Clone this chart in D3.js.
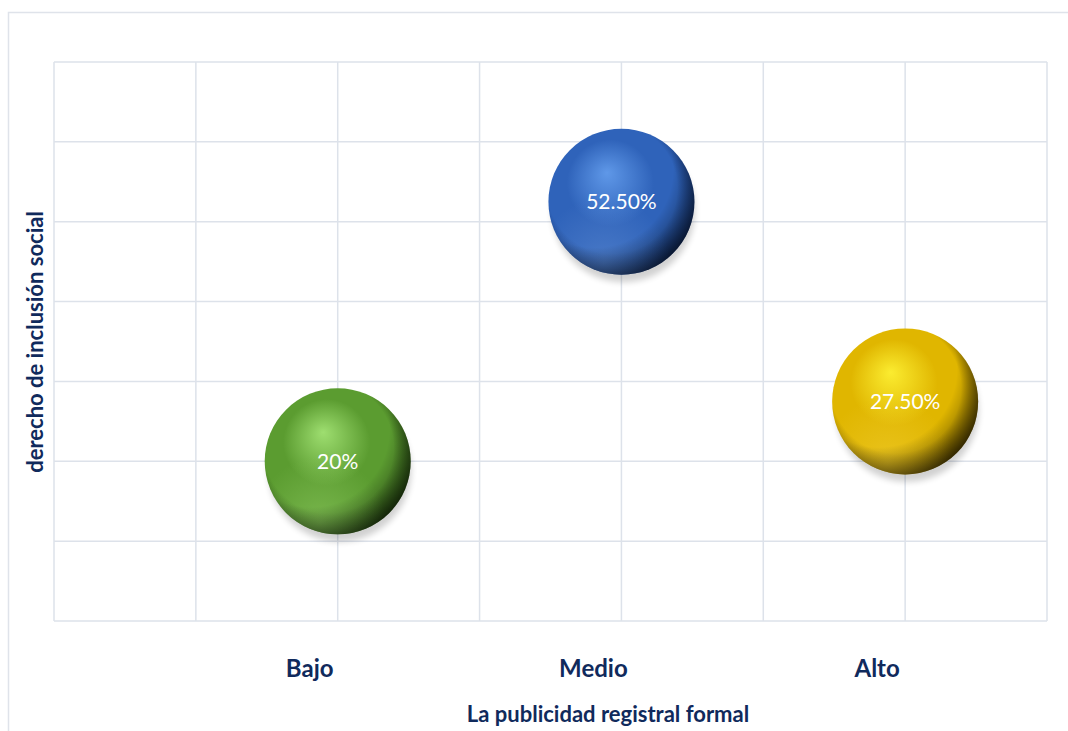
<!DOCTYPE html>
<html><head><meta charset="utf-8">
<script src="https://cdn.jsdelivr.net/npm/d3@7"></script>
<style>body{margin:0;background:#fff}svg{display:block}</style>
</head><body>
<script>
const categories = ["Bajo","Medio","Alto"];
const xValues = [1,2,3];
const yValues = [0.20,0.525,0.275];
const labels = ["20%","52.50%","27.50%"];
const sizes = [1,1,1];
const xTicks = [0,0.5,1,1.5,2,2.5,3,3.5];
const yTicks = [0,0.1,0.2,0.3,0.4,0.5,0.6,0.7];
const palettes = [
  {hi:"#9ede70",mid:"#5b9c30",dark:"#1a360a",refl:"#8cc860"},
  {hi:"#5f98e8",mid:"#2f63ba",dark:"#0a1f4c",refl:"#5a88d0"},
  {hi:"#fbec30",mid:"#e0b600",dark:"#453400",refl:"#f0cc30"}
];

const W=1068,H=731;
const m={l:54,t:62,r:1047,b:621};
const svg=d3.select("body").append("svg").attr("width",W).attr("height",H);
const defs=svg.append("defs");

svg.append("rect").attr("x",8.5).attr("y",12.5).attr("width",W+10).attr("height",H+10)
  .attr("fill","#fff").attr("stroke","#dfe3ea").attr("stroke-width",1.5);

const x=d3.scaleLinear().domain([0,3.5]).range([m.l,m.r]);
const y=d3.scaleLinear().domain([0,0.7]).range([m.b,m.t]);
const r=d3.scaleSqrt().domain([0,1]).range([0,73]);

const grid=svg.append("g").attr("stroke","#dde2ea").attr("stroke-width",1.5);
grid.selectAll("line.v").data(xTicks).join("line")
  .attr("x1",d=>x(d)).attr("x2",d=>x(d)).attr("y1",m.t).attr("y2",m.b);
grid.selectAll("line.h").data(yTicks).join("line")
  .attr("y1",d=>y(d)).attr("y2",d=>y(d)).attr("x1",m.l).attr("x2",m.r);

palettes.forEach((p,i)=>{
  const g=defs.append("radialGradient").attr("id","g"+i)
    .attr("cx","45%").attr("cy","45%").attr("r","62%").attr("fx","40%").attr("fy","30%");
  g.append("stop").attr("offset","0%").attr("stop-color",p.hi);
  g.append("stop").attr("offset","48%").attr("stop-color",p.mid);
  g.append("stop").attr("offset","72%").attr("stop-color",p.mid);
  g.append("stop").attr("offset","100%").attr("stop-color",p.dark);
  const rg=defs.append("radialGradient").attr("id","rf"+i)
    .attr("cx","38%").attr("cy","92%").attr("r","45%");
  rg.append("stop").attr("offset","0%").attr("stop-color",p.refl).attr("stop-opacity",0.6);
  rg.append("stop").attr("offset","100%").attr("stop-color",p.refl).attr("stop-opacity",0);
});
const sh=defs.append("filter").attr("id","sh").attr("x","-30%").attr("y","-30%").attr("width","160%").attr("height","170%");
sh.append("feGaussianBlur").attr("stdDeviation",3);
const dk=defs.append("radialGradient").attr("id","dk").attr("cx","32%").attr("cy","28%").attr("r","82%");
dk.append("stop").attr("offset","65%").attr("stop-color","#000").attr("stop-opacity",0);
dk.append("stop").attr("offset","100%").attr("stop-color","#000").attr("stop-opacity",0.6);

const bub=svg.append("g").selectAll("g").data(xValues).join("g")
  .attr("transform",(d,i)=>`translate(${x(d)},${y(yValues[i])})`);
bub.append("ellipse").attr("cx",2).attr("cy",(d,i)=>r(sizes[i])*0.08+3)
  .attr("rx",(d,i)=>r(sizes[i])*0.98).attr("ry",(d,i)=>r(sizes[i])*0.98)
  .attr("fill","#000").attr("opacity",0.18).attr("filter","url(#sh)");
bub.append("circle").attr("r",(d,i)=>r(sizes[i])).attr("fill",(d,i)=>`url(#g${i})`);
bub.append("circle").attr("r",(d,i)=>r(sizes[i])).attr("fill",(d,i)=>`url(#rf${i})`);
bub.append("circle").attr("r",(d,i)=>r(sizes[i])).attr("fill","url(#dk)");
bub.append("text").text((d,i)=>labels[i]).attr("text-anchor","middle").attr("dy","0.35em")
  .attr("fill","#fff").style("font-family","Lato, 'Noto Sans', sans-serif").style("font-size","21px");

const navy="#102a5c";
svg.append("g").selectAll("text").data(xValues).join("text")
  .attr("x",d=>x(d)-28).attr("y",677).attr("text-anchor","middle")
  .text((d,i)=>categories[i]).attr("fill",navy)
  .style("font-family","Lato, 'Noto Sans', sans-serif").style("font-weight","bold").style("font-size","24px");

svg.append("text").attr("x",608).attr("y",722).attr("text-anchor","middle").text("La publicidad registral formal")
  .attr("fill",navy).style("font-family","Lato, 'Noto Sans', sans-serif").style("font-weight","bold").style("font-size","22px");
svg.append("text").attr("transform","translate(43,342) rotate(-90)").attr("text-anchor","middle")
  .text("derecho de inclusión social").attr("fill",navy)
  .style("font-family","Lato, 'Noto Sans', sans-serif").style("font-weight","bold").style("font-size","22px");
</script>
</body></html>
